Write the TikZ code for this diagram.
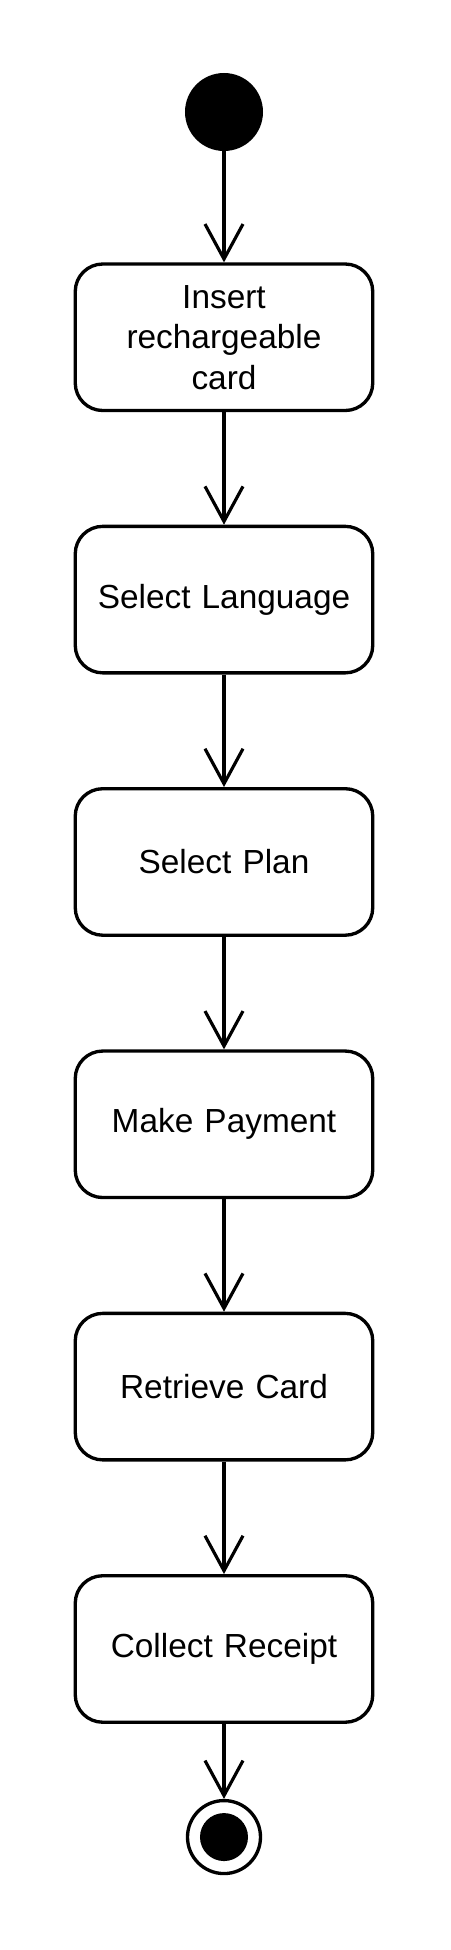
\documentclass[tikz,border=0pt]{standalone}
\usepackage{fontspec}
\setmainfont{Liberation Sans}
\usepackage{tikz}
\usetikzlibrary{shapes,arrows.meta,positioning}

\begin{document}
\begin{tikzpicture}[
    node distance=2.25cm,
    auto,
    action/.style={
        rectangle,
        draw,
        line width=1.9pt,
        rounded corners=0.55cm,
        minimum width=5.95cm,
        minimum height=2.93cm,
        text width=5.6cm,
        align=center,
        font=\fontsize{19}{23}\selectfont
    },
    initial/.style={
        circle,
        fill=black,
        minimum size=1.56cm,
        inner sep=0pt
    },
    finalring/.style={
        circle,
        draw,
        line width=1.9pt,
        minimum size=1.46cm,
        inner sep=0pt
    },
    finaldot/.style={
        circle,
        fill=black,
        minimum size=0.96cm,
        inner sep=0pt
    },
    line/.style={
        draw,
        line width=1.8pt,
        -{Straight Barb[length=0.7cm,width=0.76cm,line width=1.8pt]}
    }
]

% Frame
\useasboundingbox (-4.48,2.24) rectangle (4.52,-36.76);

% Nodes
\node [initial] (start) {};
\node [action, below=2.22cm of start] (insert) {Insert\\rechargeable\\card};
\node [action, below=of insert] (language) {Select Language};
\node [action, below=of language] (plan) {Select Plan};
\node [action, below=of plan] (payment) {Make Payment};
\node [action, below=of payment] (retrieve) {Retrieve Card};
\node [action, below=of retrieve] (receipt) {Collect Receipt};
\node [finalring, below=1.5cm of receipt] (final) {};
\node [finaldot] (finalin) at (final) {};

% Edges
\path [line] (start) -- (insert);
\path [line] (insert) -- (language);
\path [line] (language) -- (plan);
\path [line] (plan) -- (payment);
\path [line] (payment) -- (retrieve);
\path [line] (retrieve) -- (receipt);
\path [line] (receipt) -- (final);

\end{tikzpicture}
\end{document}
